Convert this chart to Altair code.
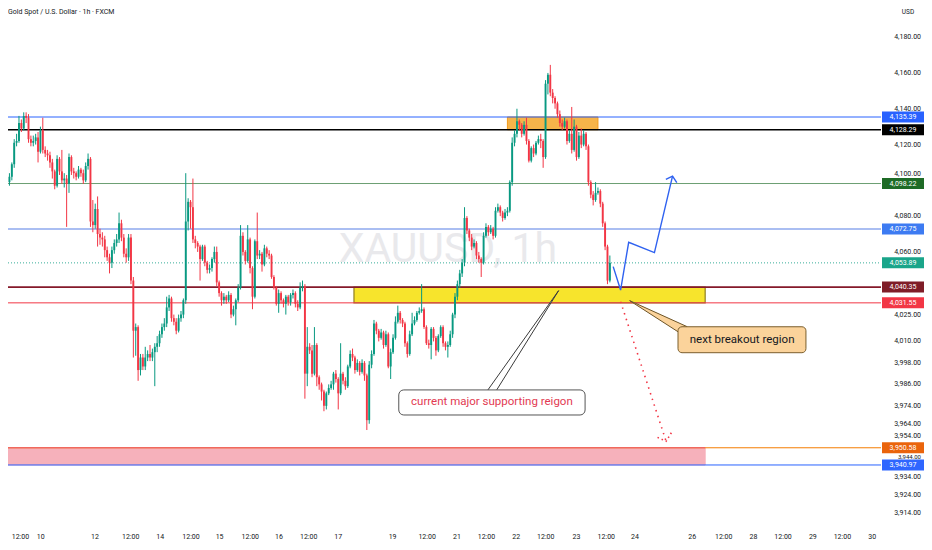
import altair as alt
import pandas as pd

W, H = 873, 520
PAD_R, PAD_B = 43, 14
X_DOMAIN = [2.49, 364.7]
Y_DOMAIN = [3905.76, 4196.29]

# ---------------- candle data (1h bars) ----------------
first_open = 4107
closes = [
    4099, 4102, 4109, 4121, 4122, 4132, 4129, 4136, 4135, 4123,
    4121, 4122, 4124, 4116, 4128, 4117, 4115, 4114, 4110, 4105,
    4097, 4112, 4105, 4100, 4101, 4098, 4113, 4105, 4104, 4102,
    4106, 4104, 4100, 4108, 4112, 4077, 4075, 4084, 4070, 4068,
    4067, 4061, 4057, 4054, 4061, 4065, 4067, 4076, 4068, 4059,
    4057, 4068, 4044, 4016, 4018, 3994, 4001, 3996, 4001, 4003,
    4001, 4004, 4007, 4009, 4014,
    4018, 4020, 4029, 4034, 4023, 4021, 4016, 4023, 4025, 4033,
    4077, 4088, 4085, 4067, 4065, 4063, 4056, 4063, 4054, 4050,
    4051, 4056, 4060, 4043, 4037, 4033, 4035, 4033, 4036, 4025,
    4028, 4033, 4040, 4069, 4060, 4055, 4067, 4051, 4035, 4066,
    4058, 4059, 4053, 4062, 4059, 4058, 4046, 4040, 4031, 4037,
    4033, 4031, 4035, 4032, 4036, 4037, 4031, 4029, 4040, 4041,
    3992,
    4007, 4005, 3992, 4008, 3990, 3986, 3982, 3974, 3981, 3984,
    3986, 3992, 3989, 3981, 3992, 3988, 3985, 3996, 4003, 4001,
    3994, 3998, 3993, 3998, 3991, 3966, 3997, 4003, 4020, 4016,
    4012, 4015, 4008, 4014, 3996, 4004, 4012, 4021, 4026, 4022,
    4020, 4009, 4003, 4014, 4020, 4022, 4026, 4027, 4028, 4018,
    4009, 4008, 4017, 4012, 4005, 4013, 4018, 4009, 4007, 4008,
    4014, 4025, 4035, 4042, 4048, 4054, 4079,
    4072, 4068, 4063, 4065, 4058, 4056, 4054, 4069, 4074, 4071,
    4073, 4069, 4083, 4085, 4082, 4079, 4082, 4083, 4099, 4121,
    4126, 4133, 4131, 4126, 4131, 4122, 4111, 4118, 4115, 4121,
    4123, 4122, 4113, 4154, 4159, 4149, 4146, 4143, 4137, 4132,
    4130, 4133, 4122, 4126, 4117, 4130, 4113, 4125, 4120, 4126,
    4119, 4099, 4092, 4089, 4093, 4094, 4087, 4076, 4063, 4044,
    4053.89,
]
highs = [
    4109, 4104, 4110, 4123, 4126, 4136, 4134, 4138, 4138, 4137,
    4125, 4125, 4126, 4127, 4130, 4135, 4119, 4117, 4116, 4112,
    4106, 4114, 4113, 4117, 4104, 4103, 4115, 4114, 4107, 4105,
    4108, 4107, 4106, 4110, 4115, 4113, 4089, 4087, 4091, 4073,
    4071, 4069, 4063, 4059, 4063, 4067, 4070, 4082, 4078, 4070,
    4062, 4070, 4070, 4046, 4020, 4019, 4003, 4003, 4007, 4005,
    4008, 4006, 4009, 4013, 4016,
    4020, 4023, 4035, 4036, 4035, 4025, 4023, 4025, 4027, 4034,
    4104, 4090, 4089, 4101, 4069, 4066, 4064, 4064, 4064, 4055,
    4053, 4057, 4063, 4063, 4044, 4038, 4037, 4036, 4038, 4037,
    4030, 4034, 4042, 4075, 4071, 4061, 4075, 4068, 4052, 4067,
    4082, 4061, 4060, 4064, 4063, 4061, 4059, 4047, 4041, 4039,
    4038, 4034, 4036, 4036, 4037, 4039, 4038, 4033, 4043, 4044,
    4042,
    4018, 4009, 4008, 4018, 4009, 3991, 3987, 3983, 3982, 3986,
    3988, 3993, 3994, 3990, 4009, 3993, 3990, 3997, 4005, 4006,
    4002, 4000, 3999, 4000, 3999, 3992, 3999, 4005, 4022, 4021,
    4017, 4017, 4016, 4016, 4015, 4006, 4014, 4024, 4030, 4027,
    4023, 4021, 4010, 4016, 4026, 4024, 4027, 4029, 4042, 4029,
    4019, 4011, 4018, 4018, 4013, 4014, 4019, 4019, 4010, 4010,
    4016, 4026, 4037, 4044, 4050, 4056, 4085,
    4080, 4073, 4070, 4067, 4066, 4060, 4057, 4071, 4076, 4075,
    4075, 4074, 4085, 4087, 4086, 4083, 4084, 4085, 4100, 4124,
    4128, 4140, 4134, 4132, 4133, 4135, 4123, 4119, 4120, 4122,
    4125, 4126, 4123, 4156, 4160, 4164.5, 4151, 4147, 4144, 4139,
    4134, 4135, 4134, 4128, 4141, 4134, 4131, 4127, 4129, 4128,
    4127, 4120, 4100, 4094, 4099, 4096, 4095, 4088, 4077, 4064,
    4058,
]
lows = [
    4095, 4097, 4100, 4107, 4119, 4121, 4127, 4128, 4132, 4121,
    4119, 4119, 4120, 4110, 4115, 4115, 4113, 4111, 4107, 4101,
    4095, 4096, 4103, 4098, 4096, 4074, 4093, 4103, 4101, 4100,
    4101, 4102, 4098, 4099, 4106, 4074, 4071, 4073, 4063, 4064,
    4063, 4057, 4055, 4048, 4051, 4059, 4063, 4065, 4066, 4057,
    4054, 4055, 4042, 4001, 4002, 3988, 3991, 3994, 3994, 3999,
    3999, 3999, 3985, 4004, 4007,
    4012, 4016, 4018, 4027, 4021, 4019, 4014, 4015, 4021, 4023,
    4031, 4072, 4073, 4065, 4062, 4060, 4044, 4055, 4052, 4048,
    4048, 4049, 4054, 4041, 4035, 4030, 4031, 4031, 4032, 4023,
    4024, 4019, 4032, 4039, 4058, 4053, 4054, 4048, 4028, 4034,
    4056, 4056, 4049, 4052, 4057, 4056, 4045, 4039, 4030, 4026,
    4031, 4029, 4025, 4030, 4030, 4034, 4029, 4027, 4028, 4038,
    3978,
    3985, 4003, 3990, 3991, 3985, 3983, 3977, 3971, 3972, 3980,
    3983, 3983, 3987, 3972, 3980, 3986, 3983, 3984, 3995, 3999,
    3992, 3993, 3991, 3992, 3988, 3960.5, 3964, 3995, 4002, 4014,
    4010, 4011, 4006, 4007, 3995, 3989, 4003, 4011, 4020, 4020,
    4018, 4007, 4001, 4002, 4013, 4019, 4021, 4025, 4026, 4017,
    4008, 4006, 4000, 4010, 4002, 4004, 4012, 4007, 4005, 4001,
    4007, 4012, 4023, 4033, 4040, 4046, 4052,
    4070, 4066, 4061, 4062, 4056, 4054, 4046, 4053, 4068, 4069,
    4070, 4067, 4068, 4082, 4080, 4077, 4078, 4080, 4082, 4097,
    4119, 4124, 4128, 4124, 4125, 4120, 4110, 4110, 4113, 4114,
    4120, 4118, 4107, 4112, 4148, 4147, 4143, 4140, 4135, 4130,
    4128, 4129, 4120, 4121, 4115, 4116, 4111, 4112, 4118, 4119,
    4117, 4097, 4090, 4086, 4088, 4092, 4085, 4074, 4061, 4042,
    4043,
]

# ---------------- axis labels ----------------
x_tick_pos = [5.6, 14.1, 36.9, 51.9, 64.3, 77.2, 89.2, 102.1, 114.1, 126.6, 139.0,
              161.8, 176.3, 188.8, 201.2, 213.7, 226.1, 239.0, 251.5, 263.5,
              287.6, 300.8, 313.3, 325.7, 338.2, 350.6, 363.1]
x_tick_lab = ["12:00", "10", "12", "12:00", "14", "12:00", "15", "12:00", "16", "12:00", "17",
              "19", "12:00", "21", "12:00", "22", "12:00", "23", "12:00", "24",
              "26", "12:00", "28", "12:00", "29", "12:00", "30"]
# price-scale labels; those crowded by price tags are drawn nudged clear of the tags
y_tick_values = [4180, 4160, 4140, 4120, 4080, 4060, 4025, 4010, 3998,
                 3986, 3974, 3964, 3934, 3924, 3914]
y_tick_values_above_tag = [4100, 3954]
y_tick_values_between_tags = [3944]

# ---------------- horizontal levels & price tags ----------------
level_prices = [4135.39, 4128.29, 4098.22, 4072.75, 4040.35, 4031.55, 3950.58, 3940.97]
level_colors = ["#2962ff", "#000000", "#6b9f72", "#8ea8ee", "#85192a", "#f23645", "#f57c00", "#2962ff"]
level_widths = [1, 1.6, 1, 1.5, 1.6, 1, 1, 1]
last_price = 4053.89

tag_prices = [4135.39, 4128.29, 4098.22, 4072.75, 4053.89, 4040.35, 4031.55, 3950.58, 3940.97]
tag_colors = ["#2962ff", "#000000", "#1e6b26", "#3d7bf2", "#1aa58a", "#7f1d27", "#f23645", "#ea640c", "#2f66ff"]
tag_labels = ["4,135.39", "4,128.29", "4,098.22", "4,072.75", "4,053.89", "4,040.35", "4,031.55", "3,950.58", "3,940.97"]

# ---------------- drawings ----------------
box_x0 = [210.0, -10.0, 145.6]
box_x1 = [248.0, 293.0, 293.0]
box_lo = [4128.29, 3940.97, 4031.55]
box_hi = [4135.39, 3950.58, 4040.35]
box_fill = ["#f6b44a", "#f6b1bb", "#f7e42c"]
box_stroke = ["#f29b1d", "#f6b1bb", "#8f7f22"]

blue_x = [254.4, 257.5, 260.9, 271.7, 279.3]
blue_y = [4051.8, 4038.7, 4065.4, 4059.6, 4102.4]
blue_head_x = [276.5, 279.3, 281.1]
blue_head_y = [4100.6, 4102.4, 4098.7]

red_x = [257.5, 276.6]
red_y = [4032.2, 3954.2]
red_head_x = [273.0, 276.6, 278.8]
red_head_y = [3956.4, 3954.2, 3959.0]

cm_box = [164.4, 242.6, 3968.9, 3982.9]
cm_ptr_x = [201.8, 231.5, 205.5]
cm_ptr_y = [3982.9, 4038.4, 3982.9]
cm_text = "current major supporting reigon"
cm_text_pos = [203.5, 3975.9]

nb_box = [281.6, 335.3, 4003.7, 4018.2]
nb_ptr_x = [281.6, 261.3, 285.5]
nb_ptr_y = [4015.4, 4032.8, 4018.2]
nb_text = "next breakout region"
nb_text_pos = [308.5, 4011.0]

watermark = "XAUUSD, 1h"
watermark_pos = [185.0, 4061.1]
chart_title = "Gold Spot / U.S. Dollar · 1h · FXCM"

# ---------------- build ----------------
opens = [first_open] + closes[:-1]
bars = pd.DataFrame({"bar": list(range(len(closes))), "open": opens, "close": closes,
                     "high": highs, "low": lows})
bars["dir"] = ["up" if c >= o else "down" for o, c in zip(opens, closes)]

xs = alt.Scale(domain=X_DOMAIN, nice=False, zero=False)
ys = alt.Scale(domain=Y_DOMAIN, nice=False, zero=False)
FONT = "Roboto"


def X(f):
    return alt.X(f, scale=xs, axis=None)


def Y(f):
    return alt.Y(f, scale=ys, axis=None)


dir_color = alt.Color("dir:N", scale=alt.Scale(domain=["up", "down"], range=["#089981", "#f23645"]),
                      legend=None)

wm = alt.Chart(pd.DataFrame({"x": [watermark_pos[0]], "y": [watermark_pos[1]], "t": [watermark]})).mark_text(
    fontSize=41, color="#e9e9ec", align="center", baseline="middle", font=FONT).encode(
    x=X("x:Q"), y=Y("y:Q"), text="t:N")

boxes = pd.DataFrame({"x0": box_x0, "x1": box_x1, "lo": box_lo, "hi": box_hi,
                      "fill": box_fill, "stroke": box_stroke})


def box_layer(rows, sw):
    return alt.Chart(boxes.iloc[rows]).mark_rect(clip=True, strokeWidth=sw).encode(
        x=X("x0:Q"), x2="x1:Q", y=Y("lo:Q"), y2="hi:Q",
        fill=alt.Fill("fill:N", scale=None), stroke=alt.Stroke("stroke:N", scale=None))


top_boxes = box_layer([0, 1], 1)
yellow_box = box_layer([2], 1.2)

levels = pd.DataFrame({"price": level_prices, "c": level_colors, "w": level_widths})
lines = alt.Chart(levels).mark_rule(clip=True).encode(
    y=Y("price:Q"), x=alt.value(0), x2=alt.value(W),
    stroke=alt.Stroke("c:N", scale=None), strokeWidth=alt.StrokeWidth("w:Q", scale=None))
last_line = alt.Chart(pd.DataFrame({"price": [last_price]})).mark_rule(
    clip=True, color="#089981", strokeWidth=1, strokeDash=[1, 2], opacity=0.8).encode(
    y=Y("price:Q"), x=alt.value(0), x2=alt.value(W))
pink_edge = alt.Chart(boxes.iloc[[1]]).mark_rule(clip=True, color="#ee5b6f", strokeWidth=1).encode(
    x=X("x0:Q"), x2="x1:Q", y=Y("hi:Q"))

wicks = alt.Chart(bars).mark_rule(strokeWidth=1, clip=True).encode(
    x=X("bar:Q"), y=Y("low:Q"), y2="high:Q", color=dir_color)
bodies = alt.Chart(bars).mark_bar(size=1.9, clip=True).encode(
    x=X("bar:Q"), y=Y("open:Q"), y2="close:Q", color=dir_color)


def path_df(xv, yv):
    return pd.DataFrame({"x": xv, "y": yv, "k": list(range(len(xv)))})


def path_layer(df, **kw):
    return alt.Chart(df).mark_line(clip=True, **kw).encode(x=X("x:Q"), y=Y("y:Q"), order="k:Q")


nb_ptr = path_layer(path_df(nb_ptr_x, nb_ptr_y), color="#6d5426", strokeWidth=1, fill="#fbd39b")
nb_rect = alt.Chart(pd.DataFrame({"x0": [nb_box[0]], "x1": [nb_box[1]], "lo": [nb_box[2]], "hi": [nb_box[3]]})).mark_rect(
    cornerRadius=4, fill="#fbd39b", stroke="#7a5e2c", strokeWidth=1, clip=True).encode(
    x=X("x0:Q"), x2="x1:Q", y=Y("lo:Q"), y2="hi:Q")
nb_txt = alt.Chart(pd.DataFrame({"x": [nb_text_pos[0]], "y": [nb_text_pos[1]], "t": [nb_text]})).mark_text(
    fontSize=11.5, color="#131722", align="center", baseline="middle", font=FONT).encode(
    x=X("x:Q"), y=Y("y:Q"), text="t:N")

cm_ptr = path_layer(path_df(cm_ptr_x, cm_ptr_y), color="#3a3a3a", strokeWidth=1, fill="#ffffff")
cm_rect = alt.Chart(pd.DataFrame({"x0": [cm_box[0]], "x1": [cm_box[1]], "lo": [cm_box[2]], "hi": [cm_box[3]]})).mark_rect(
    cornerRadius=5, fill="#ffffff", stroke="#555555", strokeWidth=1, clip=True).encode(
    x=X("x0:Q"), x2="x1:Q", y=Y("lo:Q"), y2="hi:Q")
cm_txt = alt.Chart(pd.DataFrame({"x": [cm_text_pos[0]], "y": [cm_text_pos[1]], "t": [cm_text]})).mark_text(
    fontSize=11.5, color="#e23a52", align="center", baseline="middle", font=FONT).encode(
    x=X("x:Q"), y=Y("y:Q"), text="t:N")

blue_path = path_layer(path_df(blue_x, blue_y), color="#2f62f0", strokeWidth=1.4)
blue_head = path_layer(path_df(blue_head_x, blue_head_y), color="#2f62f0", strokeWidth=1.4)
red_path = path_layer(path_df(red_x, red_y), color="#f23645", strokeWidth=1.6, strokeDash=[1.5, 4.5])
red_head = path_layer(path_df(red_head_x, red_head_y), color="#f23645", strokeWidth=1.6, strokeDash=[1.5, 3])


# right price scale (labels drawn from the tick value lists)
def ylab_layer(values, size=7, dy=0):
    return alt.Chart(pd.DataFrame({"v": values})).mark_text(
        fontSize=size, color="#131722", align="right", baseline="middle", font=FONT, dy=dy).encode(
        y=Y("v:Q"), x=alt.value(W + 40), text=alt.Text("v:Q", format=",.2f"))


ylab = ylab_layer(y_tick_values)
ylab_up = ylab_layer(y_tick_values_above_tag, 7, -6)
ylab_mid = ylab_layer(y_tick_values_between_tags, 6, -2.5)

tags = pd.DataFrame({"price": tag_prices, "c": tag_colors, "t": tag_labels})
tag_rects = alt.Chart(tags).mark_tick(orient="horizontal", thickness=11, size=42, opacity=1).encode(
    y=Y("price:Q"), x=alt.value(W + 22), fill=alt.Fill("c:N", scale=None))
tag_text = alt.Chart(tags).mark_text(fontSize=7, color="#ffffff", align="center", baseline="middle",
                                     font=FONT).encode(
    y=Y("price:Q"), x=alt.value(W + 22), text="t:N")

xlab = alt.Chart(pd.DataFrame({"x": x_tick_pos, "t": x_tick_lab})).mark_text(
    fontSize=7, color="#131722", align="center", baseline="middle", font=FONT).encode(
    x=X("x:Q"), y=alt.value(H + 9), text="t:N")

title_txt = alt.Chart(pd.DataFrame({"t": [chart_title]})).mark_text(
    fontSize=7, color="#131722", align="left", baseline="middle", font=FONT).encode(
    x=alt.value(0), y=alt.value(4), text="t:N")
usd_txt = alt.Chart(pd.DataFrame({"t": ["USD"]})).mark_text(
    fontSize=6.5, color="#131722", align="center", baseline="middle", font=FONT).encode(
    x=alt.value(W + 27), y=alt.value(4), text="t:N")

chart = alt.layer(
    wm, top_boxes, yellow_box, lines, last_line, pink_edge,
    wicks, bodies,
    cm_ptr, cm_rect, cm_txt, nb_ptr, nb_rect, nb_txt,
    blue_path, blue_head, red_path, red_head,
    ylab, ylab_up, ylab_mid, tag_rects, tag_text, xlab, title_txt, usd_txt,
).properties(
    width=W, height=H,
    padding={"left": 0, "top": 0, "right": PAD_R, "bottom": PAD_B},
    autosize=alt.AutoSizeParams(type="none"),
    background="#ffffff",
).configure(font=FONT, view=alt.ViewConfig(stroke=None, strokeWidth=0))

chart.save("out.html", embed_options={"renderer": "svg", "actions": False})
